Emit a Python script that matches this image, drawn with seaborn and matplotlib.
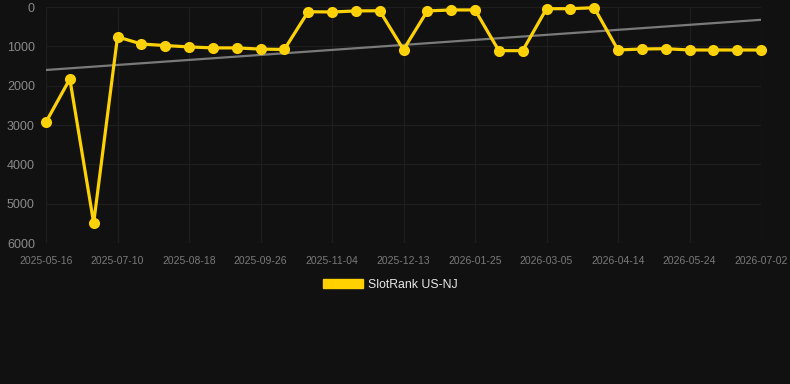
import matplotlib
matplotlib.use("Agg")
import matplotlib.pyplot as plt
from matplotlib.patches import Patch
import seaborn as sns
import pandas as pd
import numpy as np

# ---- data ----
tick_labels = ["2025-05-16", "2025-07-10", "2025-08-18", "2025-09-26", "2025-11-04",
               "2025-12-13", "2026-01-25", "2026-03-05", "2026-04-14", "2026-05-24",
               "2026-07-02"]
rank_values = [2925, 1830, 5490, 760, 940, 980, 1015, 1040, 1040, 1070, 1080,
               120, 127, 100, 95, 1085, 100, 75, 75, 1110, 1110,
               43, 43, 18, 1093, 1068, 1060, 1093, 1093, 1093, 1093]
series_name = "SlotRank US-NJ"
y_ticks = [0, 1000, 2000, 3000, 4000, 5000, 6000]

# ---- style ----
sns.set_theme(style="dark")
plt.rcParams["font.family"] = ["Liberation Sans", "DejaVu Sans"]
BG = "#111111"
GOLD = "#FFD100"

df = pd.DataFrame({"idx": np.arange(len(rank_values)), "rank": rank_values})

fig = plt.figure(figsize=(7.9, 3.84), dpi=100, facecolor=BG)
ax = fig.add_axes([46 / 790, 1 - 243 / 384, (761 - 46) / 790, (243 - 7) / 384])
ax.set_facecolor(BG)

# trend line (linear regression)
sns.regplot(data=df, x="idx", y="rank", scatter=False, ci=None, ax=ax,
            line_kws=dict(color="#7a7a7a", lw=1.6, zorder=2), truncate=True)

sns.lineplot(data=df, x="idx", y="rank", ax=ax, color=GOLD, lw=2.3,
             marker="o", markersize=8, markeredgewidth=0, zorder=3,
             clip_on=False, legend=False)

ax.set_xlim(0, len(rank_values) - 1)
ax.set_ylim(6000, 0)
ax.set_yticks(y_ticks)
ax.set_yticklabels([str(v) for v in y_ticks])
ax.set_xticks(np.arange(0, len(rank_values), 3))
ax.set_xticklabels(tick_labels)
ax.set_xlabel("")
ax.set_ylabel("")

ax.grid(True, color="#1e1e1e", lw=0.9)
for s in ax.spines.values():
    s.set_visible(False)
ax.tick_params(axis="y", colors="#8a8a8a", labelsize=9, length=0, pad=8)
ax.tick_params(axis="x", colors="#7a7a7a", labelsize=7.5, length=0, pad=9)

fig.legend(handles=[Patch(facecolor=GOLD, edgecolor=GOLD, label=series_name)],
           loc="center", bbox_to_anchor=(0.494, 1 - 285 / 384), frameon=False,
           fontsize=8.8, labelcolor="#e8e8e8", handlelength=3.3, handleheight=0.8,
           handletextpad=0.45)

fig.savefig("out.png", dpi=100, facecolor=BG)
